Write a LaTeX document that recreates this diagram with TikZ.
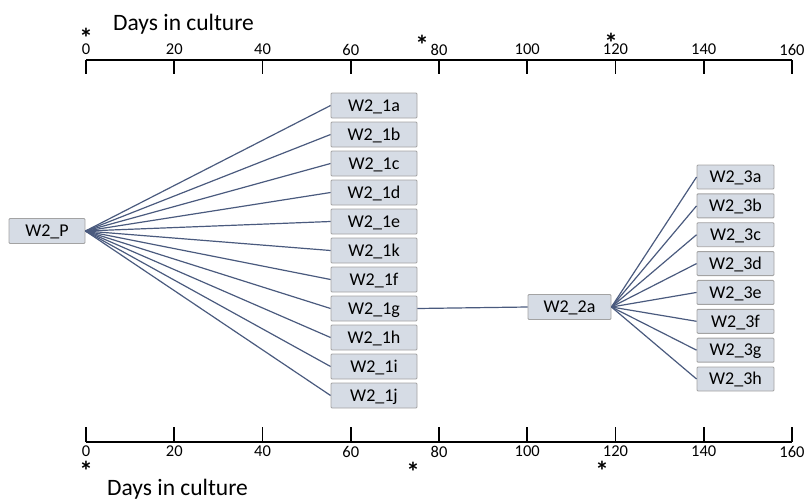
\documentclass[tikz,border=0pt]{standalone}
\usepackage{fontspec}
\setmainfont{Carlito}
\definecolor{boxfill}{HTML}{D6DCE5}
\definecolor{boxdraw}{HTML}{A3A3A3}
\definecolor{linkcol}{HTML}{4A5A7E}
\begin{document}
\begin{tikzpicture}[x=1pt,y=-1pt,
  cell/.style={draw=boxdraw,fill=boxfill,line width=0.9pt,rounded corners=1pt,
    inner sep=0pt,minimum width=86pt,minimum height=25pt,
    font=\fontsize{18}{18}\selectfont,text height=11.5pt,text depth=0pt},
  link/.style={draw=linkcol,line width=1.2pt},
  axis/.style={line width=1.8pt,black},
  ticklab/.style={inner sep=0pt,font=\fontsize{16.5}{16.5}\selectfont},
  star/.style={inner sep=0pt,anchor=north,font=\fontsize{27}{27}\selectfont\bfseries},
  title/.style={inner sep=0pt,anchor=base west,font=\fontsize{23.5}{23.5}\selectfont}]
\useasboundingbox (0,0) rectangle (809,501);
% top axis
\coordinate (ta0) at (86,60);
\coordinate (ta1) at (792,60);
\draw[axis] (ta0) -- (ta1);
\foreach \v/\lab in {0/0,1/20,2/40,3/60,4/80,5/100,6/120,7/140,8/160}{
  \coordinate (tt\v) at ({86+\v*88.25},60);
  \draw[axis] (tt\v) -- ++(0,14);
  \node[ticklab] (tl\v) at ({86+\v*88.25},49.5) {\lab};
}
\node[title] (ttitle) at (113,30) {Days in culture};
\node[star] (ts1) at (86,27.5) {*};
\node[star] (ts2) at (422,35) {*};
\node[star] (ts3) at (611,33) {*};
% bottom axis
\coordinate (ba0) at (86,442);
\coordinate (ba1) at (792,442);
\draw[axis] (ba0) -- (ba1);
\foreach \v/\lab in {0/0,1/20,2/40,3/60,4/80,5/100,6/120,7/140,8/160}{
  \coordinate (bt\v) at ({86+\v*88.25},442);
  \draw[axis] (bt\v) -- ++(0,-15);
  \node[ticklab] (bl\v) at ({86+\v*88.25},451.5) {\lab};
}
\node[title] (btitle) at (107,495) {Days in culture};
\node[star] (bs1) at (86,461) {*};
\node[star] (bs2) at (413,461.5) {*};
\node[star] (bs3) at (602,461) {*};
% nodes
\node[cell,minimum width=76pt] (P) at (47,231) {W2\_P};
\foreach \n [count=\i from 0] in {1a,1b,1c,1d,1e,1k,1f,1g,1h,1i,1j}{
  \node[cell] (n\n) at (374,{105.5+\i*29}) {W2\_\n};
  \draw[link] (P.east) -- (n\n.west);
}
\node[cell,minimum width=83pt] (n2a) at (569.5,307) {W2\_2a};
\draw[link] (n1g.east) -- (n2a.west);
\foreach \n [count=\i from 0] in {3a,3b,3c,3d,3e,3f,3g,3h}{
  \node[cell,minimum width=77pt,minimum height=24pt] (n\n) at (735.5,{177+\i*28.86}) {W2\_\n};
  \draw[link] (n2a.east) -- (n\n.west);
}
\end{tikzpicture}
\end{document}
